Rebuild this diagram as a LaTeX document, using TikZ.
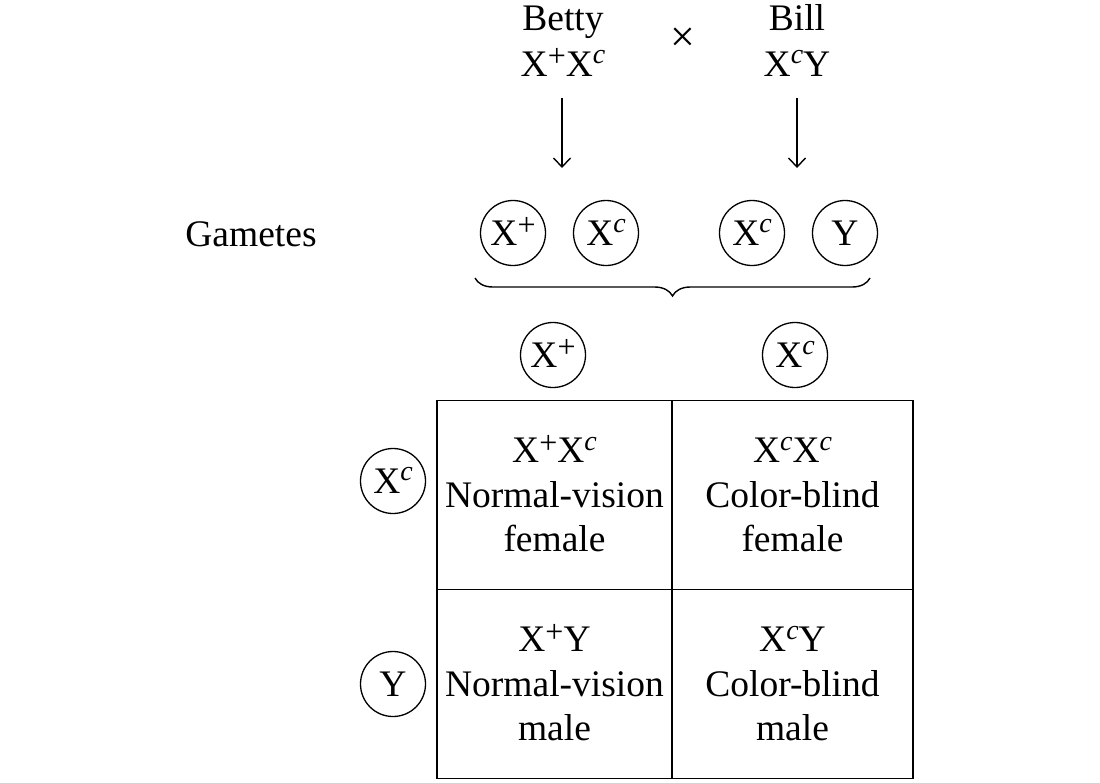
\documentclass[tikz,border=0pt]{standalone}
\usepackage{fontspec}
\setmainfont{Liberation Serif}
\usetikzlibrary{arrows, arrows.meta, positioning, decorations.pathreplacing}

\newcommand{\Xp}{X\smash{\raisebox{0.25em}{\fontsize{32}{32}\selectfont +}}}
\newcommand{\Xc}{X\smash{\raisebox{0.33em}{\fontsize{28}{28}\selectfont\itshape c}}}

\begin{document}
\begin{tikzpicture}[x=1pt, y=-1pt, >={Straight Barb[length=9pt, width=17pt]},
    font=\fontsize{37.5}{44.5}\selectfont,
    gamete/.style={circle, draw, line width=1.3pt, minimum size=65pt, inner sep=0pt},
    cell/.style={draw, line width=1.8pt, align=center, minimum height=189pt, inner sep=0pt}]
    \useasboundingbox (0,0) rectangle (1100,782);

    %define the parents
    \node[anchor=base] (betty) at (563,30) {Betty};
    \node[anchor=base] (bettygt) at (563,76) {\Xp\Xc};
    \node (cross) at (683,40) {\fontsize{44}{44}\selectfont ×};
    \node[anchor=base] (bill) at (797,30) {Bill};
    \node[anchor=base] (billgt) at (797,76) {\Xc Y};
    \coordinate (bettyup) at (562,98);
    \coordinate (bettydown) at (562,168);
    \coordinate (billup) at (797,98);
    \coordinate (billdown) at (797,168);

    %define the gametes
    \node[anchor=base] (gam) at (251,246) {Gametes};
    \node[gamete] (g1) at (513,233) {\Xp};
    \node[gamete] (g2) at (606,233) {\Xc};
    \node[gamete] (g3) at (752,233) {\Xc};
    \node[gamete] (g4) at (845,233) {Y};
    \coordinate (bl) at (475,278);
    \coordinate (br) at (870,278);

    %define the square
    \node[gamete] (top1) at (553,355) {\Xp};
    \node[gamete] (top2) at (795,355) {\Xc};
    \node[gamete] (left1) at (393,481) {\Xc};
    \node[gamete] (left2) at (393,684) {Y};
    \node[cell, minimum width=235pt] (c11) at (554.5,495) {\Xp\Xc\\Normal-vision\\female};
    \node[cell, minimum width=241pt] (c12) at (792.5,495) {\Xc\Xc\\Color-blind\\female};
    \node[cell, minimum width=235pt] (c21) at (554.5,684) {\Xp Y\\Normal-vision\\male};
    \node[cell, minimum width=241pt] (c22) at (792.5,684) {\Xc Y\\Color-blind\\male};

    %define the links
    \draw[->, line width=1.4pt] (bettyup) -- (bettydown);
    \draw[->, line width=1.4pt] (billup) -- (billdown);
    \draw[line width=1.4pt, decorate, decoration={brace, mirror, amplitude=18pt}] (bl) -- (br);
\end{tikzpicture}
\end{document}
